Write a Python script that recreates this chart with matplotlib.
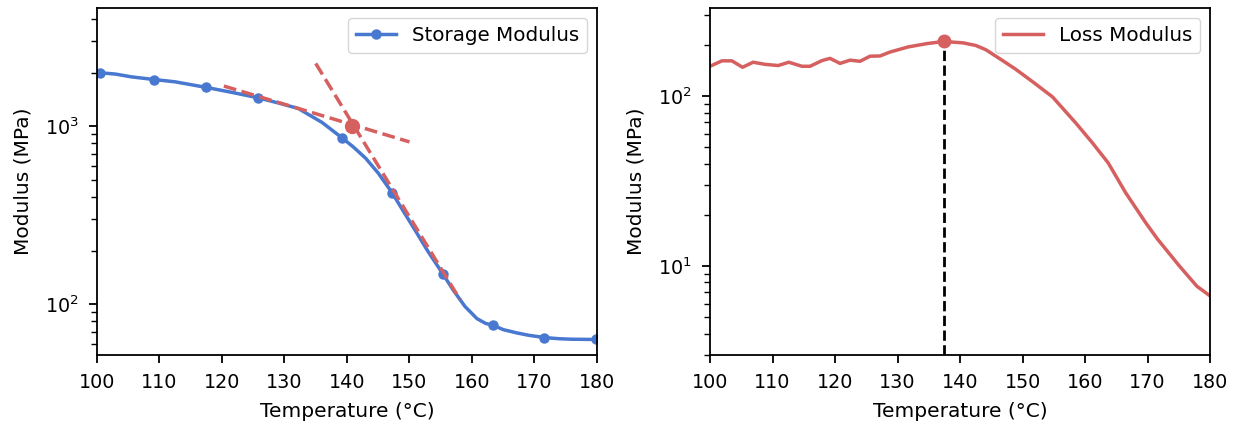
import matplotlib
matplotlib.use("Agg")
import matplotlib.pyplot as plt
import numpy as np

# ---- data ----
storage_T = [100.5, 103.0, 105.5, 109.1, 112.5, 117.5, 121.5, 125.7, 129.0, 132.2,
             136.0, 139.2, 141.0, 143.0, 145.0, 147.2, 149.0, 151.0, 153.0, 155.4,
             157.0, 158.9, 160.8, 162.2, 163.4, 165.0, 167.2, 169.0, 171.6, 174.0,
             176.0, 179.8]
storage_E = [1995, 1960, 1892, 1828, 1774, 1650, 1550, 1445, 1350, 1257,
             1050, 860, 765, 660, 545, 424, 334, 257, 197, 147,
             120, 97, 83, 78, 76.2, 72, 69, 67, 65, 64,
             63.6, 63.4]
storage_marker_idx = [0, 3, 5, 7, 11, 15, 19, 24, 28, 31]

tangent1_T = [120.3, 150.0]
tangent1_E = [1680, 816]
tangent2_T = [135.0, 158.1]
tangent2_E = [2250, 106]
onset_T = 140.85
onset_E = 1005

loss_T = [100.0, 101.9, 103.5, 105.2, 106.9, 108.8, 110.9, 112.6, 114.7, 116.0,
          117.9, 119.2, 120.8, 122.4, 124.0, 125.6, 127.2, 128.8, 131.7, 134.7,
          137.4, 140.5, 142.5, 144.1, 146.6, 148.8, 151.7, 154.8, 158.6, 161.2,
          163.7, 166.5, 169.7, 171.6, 175.1, 177.9, 180.0]
loss_E = [150, 161.5, 161.5, 148, 158.5, 154, 151.5, 158.5, 150, 150,
          162, 167, 156, 163, 160.5, 172, 172.5, 182, 195, 204,
          210, 206, 199, 188, 164, 145, 121, 99, 69, 53,
          40.5, 27, 18, 14.4, 10, 7.6, 6.67]
peak_T = 137.4
peak_E = 210

xticks = [100, 110, 120, 130, 140, 150, 160, 170, 180]

blue = "#4878d0"
red = "#d65f5f"
fs_tick = 13.8
fs_label = 14.5
fs_leg = 14.3

plt.rcParams['font.family'] = ['DejaVu Sans']

fig = plt.figure(figsize=(12.37, 4.28), dpi=100)
ax1 = fig.add_axes([0.0784, 0.171, 0.4042, 0.810])
ax2 = fig.add_axes([0.574, 0.171, 0.4042, 0.810])

# left plot
ax1.plot(storage_T, storage_E, color=blue, lw=2.5, marker='o', ms=6.5,
         markevery=storage_marker_idx, label='Storage Modulus', zorder=2)
ax1.plot(tangent1_T, tangent1_E, color=red, lw=2.5, ls='--', zorder=3)
ax1.plot(tangent2_T, tangent2_E, color=red, lw=2.5, ls='--', zorder=3)
ax1.plot([onset_T], [onset_E], 'o', color=red, ms=10, zorder=4)
ax1.set_yscale('log')
ax1.set_xlim(100, 180)
ax1.set_ylim(52, 4600)
ax1.set_xticks(xticks)
ax1.set_xlabel('Temperature (°C)', fontsize=fs_label, labelpad=7)
ax1.set_ylabel('Modulus (MPa)', fontsize=fs_label, labelpad=9)
ax1.legend(loc='upper right', fontsize=fs_leg)

# right plot
ax2.plot(loss_T, loss_E, color=red, lw=2.5, label='Loss Modulus', zorder=2)
ax2.plot([peak_T], [peak_E], 'o', color=red, ms=9, zorder=3)
ax2.set_yscale('log')
ax2.set_xlim(100, 180)
ax2.set_ylim(3.0, 330)
ax2.vlines(peak_T, 3.0, peak_E, colors='black', linestyles='--', lw=2, zorder=1)
ax2.set_xticks(xticks)
ax2.set_xlabel('Temperature (°C)', fontsize=fs_label, labelpad=7)
ax2.set_ylabel('Modulus (MPa)', fontsize=fs_label, labelpad=9)
ax2.legend(loc='upper right', fontsize=fs_leg)

for ax in (ax1, ax2):
    for s in ax.spines.values():
        s.set_linewidth(1.3)
        s.set_color('black')
    ax.tick_params(axis='both', which='major', length=6, width=1.3, pad=7,
                   labelsize=fs_tick)
    ax.tick_params(axis='y', which='minor', length=4, width=1.0)

fig.savefig('out.png', dpi=100)
